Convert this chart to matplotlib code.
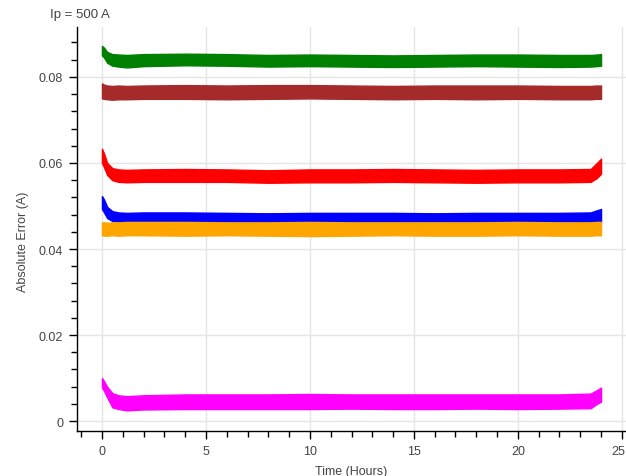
import matplotlib
matplotlib.use("Agg")
import matplotlib.pyplot as plt
from matplotlib.ticker import MultipleLocator, AutoMinorLocator, FuncFormatter
from matplotlib.transforms import ScaledTranslation

plt.rcParams['font.family'] = ['Liberation Sans', 'DejaVu Sans']

# Time points (hours) at which the envelope of each noisy trace was read
hours = [0.0, 0.1, 0.25, 0.5, 0.8, 1.2, 2, 4, 6, 8, 10, 12, 14, 16, 18, 20, 22, 23.5, 23.8, 24.0]

# Lower / upper envelope of each trace (Absolute Error, A)
green_lo = [0.0850, 0.0845, 0.0833, 0.0826, 0.0824, 0.0822, 0.0825, 0.0827, 0.0826, 0.0824,
            0.0825, 0.0824, 0.0823, 0.0824, 0.0825, 0.0824, 0.0823, 0.0824, 0.0825, 0.0826]
green_hi = [0.0872, 0.0868, 0.0858, 0.0853, 0.0852, 0.0851, 0.0853, 0.0854, 0.0853, 0.0851,
            0.0852, 0.0851, 0.0850, 0.0851, 0.0852, 0.0852, 0.0851, 0.0851, 0.0852, 0.0853]
brown_lo = [0.0750, 0.0749, 0.0748, 0.0747, 0.0748, 0.0748, 0.0749, 0.0749, 0.0748, 0.0749,
            0.0750, 0.0749, 0.0748, 0.0749, 0.0748, 0.0749, 0.0748, 0.0748, 0.0749, 0.0749]
brown_hi = [0.0785, 0.0782, 0.0780, 0.0779, 0.0780, 0.0779, 0.0780, 0.0781, 0.0780, 0.0781,
            0.0781, 0.0780, 0.0779, 0.0780, 0.0780, 0.0780, 0.0779, 0.0779, 0.0780, 0.0780]
red_lo = [0.0600, 0.0590, 0.0572, 0.0560, 0.0556, 0.0555, 0.0556, 0.0556, 0.0556, 0.0554,
          0.0555, 0.0555, 0.0556, 0.0555, 0.0554, 0.0555, 0.0555, 0.0556, 0.0565, 0.0575]
red_hi = [0.0633, 0.0622, 0.0600, 0.0588, 0.0585, 0.0584, 0.0585, 0.0586, 0.0585, 0.0583,
          0.0585, 0.0585, 0.0586, 0.0585, 0.0584, 0.0585, 0.0585, 0.0586, 0.0600, 0.0610]
blue_lo = [0.0493, 0.0485, 0.0472, 0.0465, 0.0463, 0.0463, 0.0463, 0.0463, 0.0463, 0.0462,
           0.0463, 0.0463, 0.0463, 0.0462, 0.0463, 0.0463, 0.0463, 0.0463, 0.0465, 0.0462]
blue_hi = [0.0523, 0.0515, 0.0498, 0.0488, 0.0485, 0.0484, 0.0485, 0.0485, 0.0484, 0.0483,
           0.0484, 0.0484, 0.0484, 0.0483, 0.0484, 0.0484, 0.0484, 0.0485, 0.0490, 0.0493]
orange_lo = [0.0432, 0.0431, 0.0431, 0.0432, 0.0431, 0.0432, 0.0432, 0.0431, 0.0432, 0.0431,
             0.0430, 0.0431, 0.0432, 0.0431, 0.0431, 0.0432, 0.0431, 0.0431, 0.0432, 0.0432]
orange_hi = [0.0462, 0.0462, 0.0461, 0.0462, 0.0462, 0.0463, 0.0463, 0.0463, 0.0462, 0.0462,
             0.0463, 0.0462, 0.0462, 0.0462, 0.0462, 0.0463, 0.0462, 0.0462, 0.0463, 0.0463]
magenta_lo = [0.0078, 0.0070, 0.0055, 0.0032, 0.0028, 0.0025, 0.0027, 0.0028, 0.0028, 0.0028,
              0.0028, 0.0029, 0.0028, 0.0028, 0.0029, 0.0028, 0.0029, 0.0030, 0.0040, 0.0045]
magenta_hi = [0.0100, 0.0093, 0.0080, 0.0065, 0.0060, 0.0058, 0.0060, 0.0062, 0.0062, 0.0062,
              0.0063, 0.0062, 0.0062, 0.0062, 0.0062, 0.0062, 0.0062, 0.0064, 0.0072, 0.0078]

series = [
    (green_lo, green_hi, "green"),
    (brown_lo, brown_hi, "brown"),
    (red_lo, red_hi, "red"),
    (blue_lo, blue_hi, "blue"),
    (orange_lo, orange_hi, "orange"),
    (magenta_lo, magenta_hi, "magenta"),
]

fig = plt.figure(figsize=(6.26, 4.77), dpi=100)
ax = fig.add_axes([77 / 626, 45 / 477, 549 / 626, 404 / 477])

for lo, hi, col in series:
    ax.fill_between(hours, lo, hi, color=col, linewidth=1.0, edgecolor=col, zorder=3)

ax.set_xlim(-1.2, 25.2)
ax.set_ylim(-0.0023, 0.0916)

ax.xaxis.set_major_locator(MultipleLocator(5))
ax.xaxis.set_minor_locator(AutoMinorLocator(5))
ax.yaxis.set_major_locator(MultipleLocator(0.02))
ax.yaxis.set_minor_locator(AutoMinorLocator(5))
ax.yaxis.set_major_formatter(FuncFormatter(lambda v, p: "0" if abs(v) < 1e-12 else f"{v:g}"))

ax.grid(True, which='major', color='#e5e5e5', linewidth=1)
ax.set_axisbelow(True)
for s in ['top', 'right']:
    ax.spines[s].set_visible(False)
for s in ['left', 'bottom']:
    ax.spines[s].set_color('black')
    ax.spines[s].set_linewidth(1)

ax.tick_params(which='major', direction='out', length=6, width=1, color='black',
               labelsize=9, labelcolor='#444444', pad=4)
ax.tick_params(which='minor', direction='out', length=4, width=1, color='black')

ax.set_xlabel("Time (Hours)", fontsize=9, color='#444444', labelpad=6)
ax.set_ylabel("Absolute Error (A)", fontsize=9, color='#444444')
ax.yaxis.set_label_coords(-0.087, 0.47)
fig.text(50 / 626, 1 - 15 / 477, "Ip = 500 A", fontsize=9.5, color='#444444', va='center', ha='left')

# keep the last x tick label inside the canvas, as in the reference
fig.canvas.draw()
for lbl in ax.get_xticklabels():
    if lbl.get_text() == '25':
        lbl.set_transform(lbl.get_transform() + ScaledTranslation(-4 / 100, 0, fig.dpi_scale_trans))

fig.savefig("out.png", dpi=100)
